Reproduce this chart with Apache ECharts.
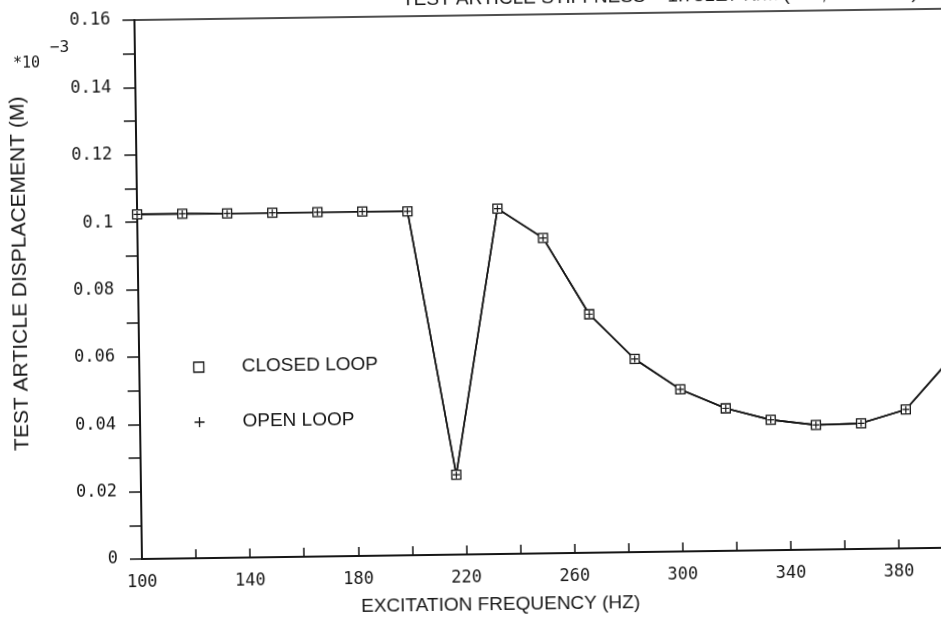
<!DOCTYPE html>
<html>
<head>
<meta charset="utf-8">
<script src="https://cdn.jsdelivr.net/npm/echarts@6/dist/echarts.min.js"></script>
<style>
html,body{margin:0;padding:0;background:#fff;overflow:hidden;width:941px;height:624px;}
#chart{width:970px;height:624px;transform-origin:142px 562px;transform:rotate(-0.8deg);}
</style>
</head>
<body>
<div id="chart"></div>
<script>
// Excitation frequency (Hz)
const frequencies = [100, 116.7, 133.3, 150, 166.7, 183.3, 200, 216.7, 233.3, 250, 266.7, 283.3, 300, 316.7, 333.3, 350, 366.7, 383.3, 400];
// Test article displacement (x 10^-3 m)
const closedLoop = [0.1023, 0.1023, 0.1022, 0.1022, 0.1022, 0.1022, 0.1021, 0.0237, 0.1025, 0.0936, 0.0708, 0.0573, 0.0481, 0.0423, 0.0387, 0.0370, 0.0373, 0.0412, 0.0560];
const openLoop   = [0.1023, 0.1023, 0.1022, 0.1022, 0.1022, 0.1022, 0.1021, 0.0237, 0.1025, 0.0936, 0.0708, 0.0573, 0.0481, 0.0423, 0.0387, 0.0370, 0.0373, 0.0412, 0.0560];
const xLabels = [100, 140, 180, 220, 260, 300, 340, 380];
const yLabels = [0, 0.02, 0.04, 0.06, 0.08, 0.1, 0.12, 0.14, 0.16];
const titleText = 'TEST ARTICLE STIFFNESS = 1.751E7 N/M (100,000 LB/IN)';

const ink = '#161616';
const sans = "'Liberation Sans', Arial, sans-serif";
const mono = "'DejaVu Sans Mono', monospace";

const chart = echarts.init(document.getElementById('chart'), null, {renderer: 'canvas'});
const pair = (xs, ys) => xs.map((x, i) => [x, ys[i]]);

chart.setOption({
  animation: false,
  backgroundColor: '#fff',
  title: {
    text: titleText,
    left: 405, top: -11,
    textStyle: {fontFamily: sans, fontSize: 19, fontWeight: 'normal', color: ink}
  },
  grid: {left: 142, top: 20, right: 17, bottom: 62, show: true, borderColor: ink, borderWidth: 1.5, containLabel: false},
  legend: {
    orient: 'vertical', left: 194, top: 358, padding: 0, itemWidth: 10, itemHeight: 10, itemGap: 35,
    textStyle: {fontFamily: sans, fontSize: 19, color: ink, lineHeight: 20, padding: [0, 0, 0, 33]},
    data: [
      {name: 'CLOSED LOOP', icon: 'rect', itemStyle: {color: '#fff', borderColor: ink, borderWidth: 1.3}},
      {name: 'OPEN LOOP', icon: 'path://M5,0L5,10M0,5L10,5', itemStyle: {color: 'none', borderColor: ink, borderWidth: 1.3}}
    ]
  },
  xAxis: {
    type: 'value', min: 100, max: 400, interval: 20,
    name: 'EXCITATION FREQUENCY (HZ)', nameLocation: 'middle', nameGap: 41,
    nameTextStyle: {fontFamily: sans, fontSize: 19, color: ink, padding: [0, 95, 0, 0]},
    axisLine: {lineStyle: {color: ink, width: 2}},
    axisTick: {inside: true, length: 9, lineStyle: {color: ink, width: 1.5}},
    axisLabel: {
      margin: 15, fontFamily: mono, fontSize: 17, color: ink,
      formatter: v => xLabels.includes(Math.round(v)) ? String(Math.round(v)) : ''
    },
    splitLine: {show: false}
  },
  yAxis: {
    type: 'value', min: 0, max: 0.16, interval: 0.01,
    name: 'TEST ARTICLE DISPLACEMENT (M)', nameLocation: 'middle', nameGap: 107,
    nameTextStyle: {fontFamily: sans, fontSize: 21, color: ink, padding: [0, 0, 0, 35]},
    axisLine: {lineStyle: {color: ink, width: 2}},
    axisTick: {inside: false, length: 12, lineStyle: {color: ink, width: 1.5}},
    axisLabel: {
      margin: 24, fontFamily: mono, fontSize: 17, color: ink,
      formatter: v => {
        const k = Math.round(v * 100);
        if (k % 2 !== 0) return '';
        const val = yLabels.find(t => Math.round(t * 100) === k);
        return val === undefined ? '' : String(val);
      }
    },
    splitLine: {show: false}
  },
  graphic: [
    {type: 'text', left: 20, top: 55, style: {text: '*10', fontFamily: mono, fontSize: 15, fill: ink}},
    {type: 'text', left: 57, top: 39, style: {text: '−3', fontFamily: mono, fontSize: 16, fill: ink}}
  ],
  series: [
    {
      name: 'CLOSED LOOP', type: 'line', data: pair(frequencies, closedLoop),
      symbol: 'rect', symbolSize: 9, showAllSymbol: true,
      itemStyle: {color: '#fff', borderColor: ink, borderWidth: 1.3},
      lineStyle: {color: ink, width: 1.6}
    },
    {
      name: 'OPEN LOOP', type: 'line', data: pair(frequencies, openLoop),
      symbol: 'path://M5,0L5,10M0,5L10,5', symbolSize: 7, showAllSymbol: true,
      itemStyle: {color: 'none', borderColor: ink, borderWidth: 1.2},
      lineStyle: {color: ink, width: 1.6}
    }
  ]
});
</script>
</body>
</html>
